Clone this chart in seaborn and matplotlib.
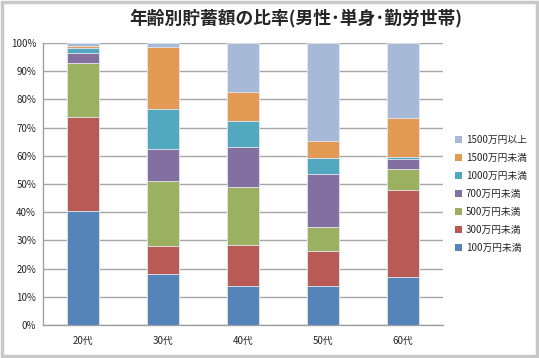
import matplotlib
matplotlib.use("Agg")
import matplotlib.pyplot as plt
import seaborn as sns
import numpy as np
import pandas as pd
from matplotlib.patches import Patch, Rectangle

categories = ["20代", "30代", "40代", "50代", "60代"]
series_names = ["100万円未満", "300万円未満", "500万円未満", "700万円未満",
                "1000万円未満", "1500万円未満", "1500万円以上"]
v_100 = [40.4, 18.0, 13.9, 13.9, 17.0]
v_300 = [33.5, 10.0, 14.6, 12.4, 30.9]
v_500 = [19.1, 23.1, 20.3, 8.6, 7.3]
v_700 = [3.6, 11.2, 14.2, 18.6, 3.6]
v_1000 = [1.5, 14.2, 9.4, 5.8, 0.9]
v_1500 = [0.8, 22.2, 10.1, 6.1, 13.8]
v_over = [1.1, 1.3, 17.5, 34.6, 26.5]
colors = ["#5585B8", "#B85A55", "#9BB161", "#8470A0", "#52A9BF", "#E39A55", "#A6BAD8"]
yticks = [0, 10, 20, 30, 40, 50, 60, 70, 80, 90, 100]

sns.set_style("white")
plt.rcParams["font.family"] = ["Noto Sans CJK JP", "DejaVu Sans"]

values = np.array([v_100, v_300, v_500, v_700, v_1000, v_1500, v_over])
totals = values.sum(axis=0)
pct = values / totals * 100
cum = np.cumsum(pct, axis=0)

fig = plt.figure(figsize=(5.39, 3.58), dpi=100)
ax = fig.add_axes([43/539, 1-325/358, 400/539, 282/358])

for i in range(len(series_names) - 1, -1, -1):
    df = pd.DataFrame({"cat": categories, "val": cum[i]})
    sns.barplot(data=df, x="cat", y="val", color=colors[i], width=0.4,
                saturation=1, edgecolor="#E4E9F1", linewidth=0.6, ax=ax, zorder=3)

ax.set_xlim(-0.5, 4.5)
ax.set_ylim(0, 100)
ax.set_yticks(yticks)
ax.set_yticklabels([f"{t}%" for t in yticks], fontsize=7)
ax.set_xlabel("")
ax.set_ylabel("")
ax.tick_params(axis="x", which="major", length=0, labelsize=7, pad=8)
ax.set_xticks(np.arange(-0.5, 5, 1), minor=True)
ax.tick_params(axis="x", which="minor", length=4, color="#A0A0A0", width=1)
ax.tick_params(axis="y", length=3, color="#A0A0A0", width=1, pad=2)
ax.yaxis.grid(True, color="#A6A6A6", linewidth=1, zorder=0)
ax.set_axisbelow(True)
for s in ["top", "right"]:
    ax.spines[s].set_visible(False)
for s in ["left", "bottom"]:
    ax.spines[s].set_color("#A0A0A0")
    ax.spines[s].set_linewidth(1)

handles = [Patch(facecolor=colors[i], edgecolor="none", label=series_names[i])
           for i in range(len(series_names) - 1, -1, -1)]
fig.legend(handles=handles, loc="upper left", bbox_to_anchor=(455/539, 1-135/358),
           frameon=False, fontsize=7, handlelength=0.7, handleheight=0.7,
           handletextpad=0.4, labelspacing=0.82, borderpad=0, borderaxespad=0)

fig.text(296/539, 1-18/358, "年齢別貯蓄額の比率(男性･単身･勤労世帯)", ha="center", va="center",
         fontsize=12.8, fontweight="bold")

fig.patches.append(Rectangle((1.5/539, 2/358), 535/539, 354/358, transform=fig.transFigure,
                             fill=False, edgecolor="#C8C8C8", linewidth=2.5))

fig.savefig("out.png", dpi=100)
